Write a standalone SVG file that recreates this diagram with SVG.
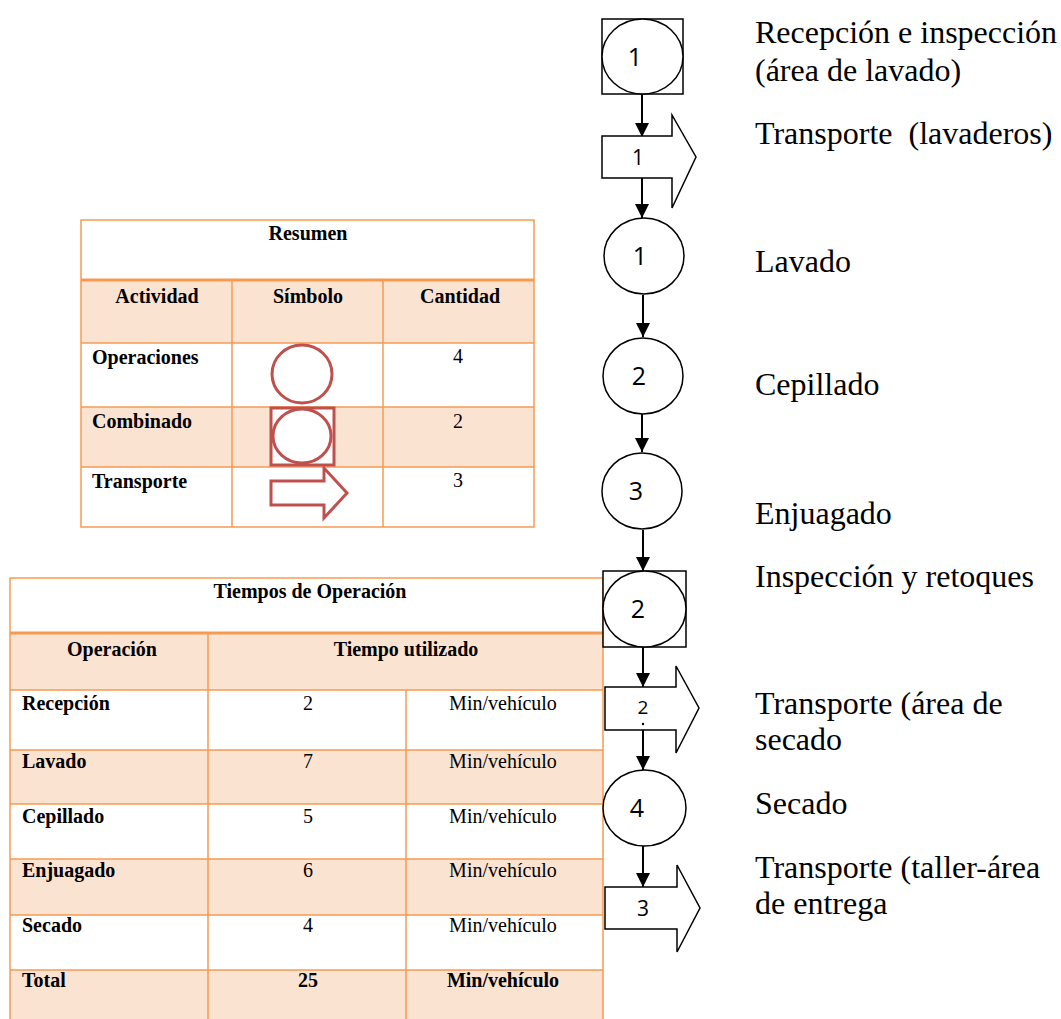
<svg xmlns="http://www.w3.org/2000/svg" width="1061" height="1019" viewBox="0 0 1061 1019">
  <defs>
    <marker id="arr" markerWidth="14" markerHeight="14" refX="14" refY="7" orient="auto" markerUnits="userSpaceOnUse">
      <path d="M0,0 L14,7 L0,14 Z" fill="#000"/>
    </marker>
    <style>
      .grid { stroke: #f79a50; stroke-width: 1.5; fill: none; }
      .thick { stroke: #f79a50; stroke-width: 3; }
      .band { fill: #fbe3d2; }
      .th { font-family: "Liberation Serif", "Times New Roman", serif; font-size: 20px; font-weight: bold; fill: #000; }
      .td { font-family: "Liberation Serif", "Times New Roman", serif; font-size: 20px; fill: #000; }
      .sym { fill: #fff; stroke: #c0504d; stroke-width: 3; }
      .shape { fill: #fff; stroke: #000; stroke-width: 1.5; }
      .num { font-family: "Open Sans", "Liberation Sans", sans-serif; font-size: 25px; fill: #000; text-anchor: middle; }
      .numt { font-family: "Open Sans", "Liberation Sans", sans-serif; font-size: 21px; fill: #000; text-anchor: middle; }
      .lbl { font-family: "Liberation Serif", "Times New Roman", serif; font-size: 32px; fill: #000; }
      .conn { stroke: #000; stroke-width: 2; fill: none; marker-end: url(#arr); }
      .c { text-anchor: middle; }
    </style>
  </defs>
  <rect width="1061" height="1019" fill="#fff"/>

  <!-- Summary table -->
  <g id="tabla-resumen">
    <rect class="band" x="81" y="280" width="453" height="63"/>
    <rect class="band" x="81" y="407" width="453" height="60"/>
    <rect class="grid" x="81" y="220" width="453" height="307"/>
    <line class="thick" x1="81" y1="280" x2="534" y2="280"/>
    <line class="grid" x1="81" y1="343" x2="534" y2="343"/>
    <line class="grid" x1="81" y1="407" x2="534" y2="407"/>
    <line class="grid" x1="81" y1="467" x2="534" y2="467"/>
    <line class="grid" x1="232" y1="280" x2="232" y2="527"/>
    <line class="grid" x1="383" y1="280" x2="383" y2="527"/>
    <text class="th c" x="308" y="240">Resumen</text>
    <text class="th c" x="157" y="303">Actividad</text>
    <text class="th c" x="308" y="303">Símbolo</text>
    <text class="th c" x="460" y="303">Cantidad</text>
    <text class="th" x="92" y="364">Operaciones</text>
    <text class="th" x="92" y="428">Combinado</text>
    <text class="th" x="92" y="488">Transporte</text>
    <text class="td c" x="458" y="363">4</text>
    <text class="td c" x="458" y="428">2</text>
    <text class="td c" x="458" y="487">3</text>
    <ellipse class="sym" cx="302" cy="374" rx="30" ry="29"/>
    <rect class="sym" x="271" y="408" width="63" height="57"/>
    <ellipse class="sym" cx="302" cy="436" rx="29" ry="27"/>
    <path class="sym" d="M271,481 H324 V468 L347,493 L324,518 V505 H271 Z"/>
  </g>

  <!-- Operation times table -->
  <g id="tabla-tiempos">
    <rect class="band" x="10" y="633" width="593" height="57"/>
    <rect class="band" x="10" y="750" width="593" height="54"/>
    <rect class="band" x="10" y="859" width="593" height="56"/>
    <rect class="band" x="10" y="970" width="593" height="49"/>
    <path class="grid" d="M10,1019 V578 H603 V1019"/>
    <line class="thick" x1="10" y1="633" x2="603" y2="633"/>
    <line class="grid" x1="10" y1="690" x2="603" y2="690"/>
    <line class="grid" x1="10" y1="750" x2="603" y2="750"/>
    <line class="grid" x1="10" y1="804" x2="603" y2="804"/>
    <line class="grid" x1="10" y1="859" x2="603" y2="859"/>
    <line class="grid" x1="10" y1="915" x2="603" y2="915"/>
    <line class="grid" x1="10" y1="970" x2="603" y2="970"/>
    <line class="grid" x1="208" y1="633" x2="208" y2="1019"/>
    <line class="grid" x1="406" y1="690" x2="406" y2="1019"/>
    <text class="th c" x="310" y="598">Tiempos de Operación</text>
    <text class="th c" x="112" y="656">Operación</text>
    <text class="th c" x="406" y="656">Tiempo utilizado</text>
    <text class="th" x="22" y="710">Recepción</text>
    <text class="td c" x="308" y="710">2</text>
    <text class="td c" x="503" y="710">Min/vehículo</text>
    <text class="th" x="22" y="768">Lavado</text>
    <text class="td c" x="308" y="768">7</text>
    <text class="td c" x="503" y="768">Min/vehículo</text>
    <text class="th" x="22" y="823">Cepillado</text>
    <text class="td c" x="308" y="823">5</text>
    <text class="td c" x="503" y="823">Min/vehículo</text>
    <text class="th" x="22" y="877">Enjuagado</text>
    <text class="td c" x="308" y="877">6</text>
    <text class="td c" x="503" y="877">Min/vehículo</text>
    <text class="th" x="22" y="932">Secado</text>
    <text class="td c" x="308" y="932">4</text>
    <text class="td c" x="503" y="932">Min/vehículo</text>
    <text class="th" x="22" y="987">Total</text>
    <text class="th c" x="308" y="987">25</text>
    <text class="th c" x="503" y="987">Min/vehículo</text>
  </g>

  <!-- Process chart connectors -->
  <g id="conectores">
    <line class="conn" x1="642" y1="94" x2="642" y2="137"/>
    <line class="conn" x1="642" y1="176" x2="642" y2="218"/>
    <line class="conn" x1="643" y1="295" x2="643" y2="337"/>
    <line class="conn" x1="642" y1="414" x2="642" y2="452"/>
    <line class="conn" x1="643" y1="530" x2="643" y2="571"/>
    <line class="conn" x1="643" y1="647" x2="643" y2="687"/>
    <line class="conn" x1="643" y1="728" x2="643" y2="770"/>
    <line class="conn" x1="643" y1="846" x2="643" y2="887"/>
  </g>

  <!-- Process chart nodes -->
  <g id="n-recepcion">
    <rect class="shape" x="602" y="19" width="81" height="75"/>
    <ellipse class="shape" cx="642.5" cy="56.5" rx="40.5" ry="37.5"/>
    <text class="num" x="635" y="66">1</text>
    <text class="lbl" x="755" y="43">Recepción e inspección</text>
    <text class="lbl" x="755" y="81">(área de lavado)</text>
  </g>
  <g id="n-transporte-1">
    <path class="shape" d="M602,136 H672 V115 L696,157 L672,208 V178 H602 Z"/>
    <text class="numt" x="638" y="165">1</text>
    <text class="lbl" x="755" y="144" xml:space="preserve">Transporte  (lavaderos)</text>
  </g>
  <g id="n-lavado">
    <ellipse class="shape" cx="644" cy="256" rx="40" ry="38"/>
    <text class="num" x="640" y="265">1</text>
    <text class="lbl" x="755" y="272">Lavado</text>
  </g>
  <g id="n-cepillado">
    <ellipse class="shape" cx="643" cy="376" rx="40" ry="38"/>
    <text class="num" x="639" y="385">2</text>
    <text class="lbl" x="755" y="395">Cepillado</text>
  </g>
  <g id="n-enjuagado">
    <ellipse class="shape" cx="642" cy="491" rx="40" ry="38"/>
    <text class="num" x="636" y="500">3</text>
    <text class="lbl" x="755" y="524">Enjuagado</text>
  </g>
  <g id="n-inspeccion">
    <rect class="shape" x="603" y="571" width="83" height="76"/>
    <ellipse class="shape" cx="644.5" cy="609" rx="41.5" ry="38"/>
    <text class="num" x="638" y="618">2</text>
    <text class="lbl" x="755" y="587">Inspección y retoques</text>
  </g>
  <g id="n-transporte-2">
    <path class="shape" d="M605,687 H676 V666 L699,708 L676,753 V730 H605 Z"/>
    <text class="numt" x="643" y="714" style="font-size:19px">2</text>
    <circle cx="643" cy="724" r="1.2" fill="#000"/>
    <text class="lbl" x="755" y="714">Transporte (área de</text>
    <text class="lbl" x="755" y="750">secado</text>
  </g>
  <g id="n-secado">
    <ellipse class="shape" cx="644.5" cy="808" rx="41.5" ry="38"/>
    <text class="num" x="637" y="817">4</text>
    <text class="lbl" x="755" y="814">Secado</text>
  </g>
  <g id="n-transporte-3">
    <path class="shape" d="M605,887 H677 V865 L700,908 L677,952 V929 H605 Z"/>
    <text class="numt" x="643" y="916">3</text>
    <text class="lbl" x="755" y="878">Transporte (taller-área</text>
    <text class="lbl" x="755" y="914">de entrega</text>
  </g>
</svg>
